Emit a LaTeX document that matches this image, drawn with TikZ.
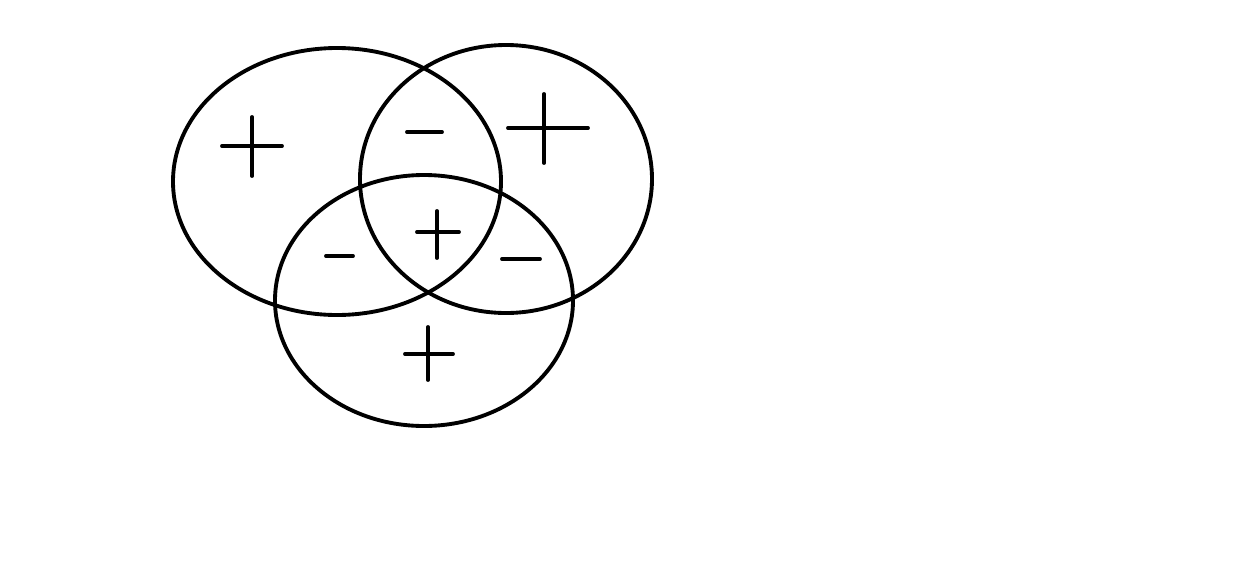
\documentclass[tikz,border=0pt]{standalone}
\usepackage{tikz}
\tikzset{
  ring/.style={draw=black, line width=2.2pt},
  sign/.style={draw=black, line width=2.2pt, line cap=round},
}
\begin{document}
\begin{tikzpicture}[x=0.02cm, y=-0.02cm]
  \useasboundingbox (0,0) rectangle (1259,562);
  % ================= the three sets =================
  \draw[ring] (337,181.5) ellipse [x radius=164, y radius=133.5];
  \draw[ring] (506,179) ellipse [x radius=146, y radius=134];
  \draw[ring] (424,300.5) ellipse [x radius=149, y radius=125.5];
  % ================= plus signs =================
  \draw[sign] (222,146) -- (282,146) (252,117) -- (252,176);
  \draw[sign] (508,128) -- (588,128) (544,94) -- (544,163);
  \draw[sign] (417,232) -- (459,232) (437,211) -- (437,258);
  \draw[sign] (405,354) -- (453,354) (428,327) -- (428,380);
  % ================= minus signs =================
  \draw[sign] (407,132) -- (442,132);
  \draw[sign] (326,256) -- (353,256);
  \draw[sign] (502,259) -- (540,259);
\end{tikzpicture}
\end{document}
